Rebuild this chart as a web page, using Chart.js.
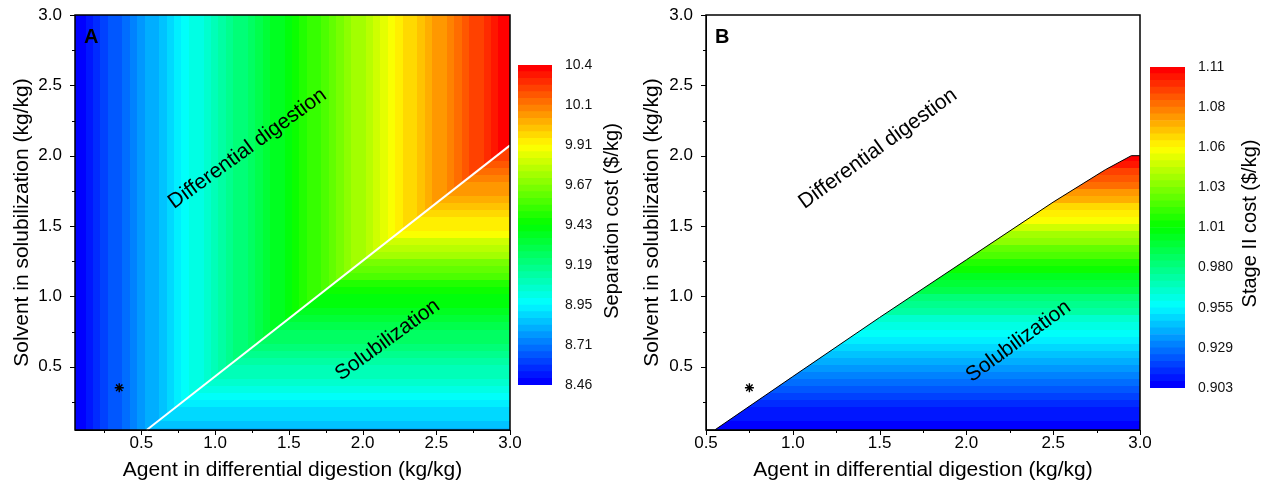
<!DOCTYPE html>
<html lang="en">
<head>
  <meta charset="UTF-8">
  <title>Separation cost maps</title>
  <script src="https://cdn.jsdelivr.net/npm/chart.js"></script>
  <style>
    body {
      margin: 0;
      background: #fff;
      width: 1268px;
      height: 489px;
      position: relative;
      overflow: hidden;
      font-family: 'Liberation Sans', Arial, sans-serif;
    }
    canvas { position: absolute; top: 0; }
  </style>
</head>
<body>
  <canvas id="mapA" width="540" height="489" style="left:0"></canvas>
  <canvas id="barA" width="125" height="489" style="left:505px"></canvas>
  <canvas id="mapB" width="540" height="489" style="left:630px"></canvas>
  <canvas id="barB" width="131" height="489" style="left:1137px"></canvas>
  <script>
    // agent loading (x) grid, panel A upper region: cost depends on agent only
    const agentGrid = [0.05, 0.10, 0.15, 0.20, 0.25, 0.30, 0.35, 0.40, 0.45, 0.50,
      0.55, 0.60, 0.65, 0.70, 0.75, 0.80, 0.85, 0.90, 0.95, 1.00,
      1.05, 1.10, 1.15, 1.20, 1.25, 1.30, 1.35, 1.40, 1.45, 1.50,
      1.55, 1.60, 1.65, 1.70, 1.75, 1.80, 1.85, 1.90, 1.95, 2.00,
      2.05, 2.10, 2.15, 2.20, 2.25, 2.30, 2.35, 2.40, 2.45, 2.50,
      2.55, 2.60, 2.65, 2.70, 2.75, 2.80, 2.85, 2.90, 2.95, 3.00];
    const separationByAgent = [8.46, 8.49, 8.53, 8.56, 8.59, 8.63, 8.66, 8.69, 8.72, 8.76,
      8.79, 8.82, 8.86, 8.89, 8.92, 8.96, 8.99, 9.02, 9.06, 9.09,
      9.12, 9.15, 9.19, 9.22, 9.25, 9.29, 9.32, 9.35, 9.38, 9.42,
      9.45, 9.48, 9.52, 9.55, 9.59, 9.62, 9.65, 9.69, 9.72, 9.75,
      9.79, 9.82, 9.86, 9.89, 9.92, 9.96, 9.99, 10.02, 10.05, 10.08,
      10.11, 10.14, 10.18, 10.21, 10.24, 10.27, 10.30, 10.33, 10.37, 10.40];

    // solvent loading (y) grid, panel A lower region: cost depends on solvent only
    const solventGridA = [0.05, 0.10, 0.15, 0.20, 0.25, 0.30, 0.35, 0.40, 0.45, 0.50,
      0.55, 0.60, 0.65, 0.70, 0.75, 0.80, 0.85, 0.90, 0.95, 1.00,
      1.05, 1.10, 1.15, 1.20, 1.25, 1.30, 1.35, 1.40, 1.45, 1.50,
      1.55, 1.60, 1.65, 1.70, 1.75, 1.80, 1.85, 1.90, 1.95, 2.00,
      2.05, 2.10];
    const separationBySolvent = [8.80, 8.83, 8.87, 8.90, 8.94, 8.97, 9.00, 9.03, 9.07, 9.10,
      9.13, 9.16, 9.19, 9.23, 9.26, 9.29, 9.32, 9.35, 9.39, 9.42,
      9.46, 9.51, 9.57, 9.62, 9.67, 9.72, 9.77, 9.83, 9.88, 9.92,
      9.95, 9.99, 10.02, 10.05, 10.08, 10.11, 10.14, 10.17, 10.21, 10.24,
      10.27, 10.30];

    // panel B: stage II cost in the solubilization region
    const solventGridB = [0.05, 0.10, 0.15, 0.20, 0.25, 0.30, 0.35, 0.40, 0.45, 0.50,
      0.55, 0.60, 0.65, 0.70, 0.75, 0.80, 0.85, 0.90, 0.95, 1.00,
      1.05, 1.10, 1.15, 1.20, 1.25, 1.30, 1.35, 1.40, 1.45, 1.50,
      1.55, 1.60, 1.65, 1.70, 1.75, 1.80, 1.85, 1.90, 1.95, 2.00];
    const stage2BySolvent = [0.903, 0.905, 0.908, 0.911, 0.915, 0.919, 0.923, 0.927, 0.931, 0.935,
      0.939, 0.943, 0.947, 0.951, 0.956, 0.962, 0.967, 0.973, 0.979, 0.984,
      0.990, 0.995, 1.001, 1.007, 1.014, 1.020, 1.027, 1.034, 1.040, 1.047,
      1.054, 1.060, 1.066, 1.073, 1.079, 1.085, 1.091, 1.097, 1.104, 1.110];

    // region boundaries (differential digestion above, solubilization below)
    const boundaryA = [{x: 0.536, y: 0.05}, {x: 3.0, y: 2.073}];
    const boundaryB = [{x: 0.5, y: 0.05}, {x: 0.55, y: 0.05}, {x: 1.0, y: 0.43}, {x: 1.5, y: 0.85},
      {x: 2.0, y: 1.26}, {x: 2.5, y: 1.67}, {x: 2.8, y: 1.90}, {x: 2.95, y: 2.0}, {x: 3.0, y: 2.0}];
    const optimumA = [{x: 0.35, y: 0.35}];
    const optimumB = [{x: 0.75, y: 0.35}];

    const axisTicks = [0.25, 0.5, 0.75, 1.0, 1.25, 1.5, 1.75, 2.0, 2.25, 2.5, 2.75, 3.0];
    const cbTicksA = [8.46, 8.7025, 8.945, 9.1875, 9.43, 9.6725, 9.915, 10.1575, 10.4];
    const cbLabelsA = ['8.46', '8.71', '8.95', '9.19', '9.43', '9.67', '9.91', '10.1', '10.4'];
    const cbTicksB = [0.903, 0.928875, 0.95475, 0.980625, 1.0065, 1.032375, 1.05825, 1.084125, 1.11];
    const cbLabelsB = ['0.903', '0.929', '0.955', '0.980', '1.01', '1.03', '1.06', '1.08', '1.11'];

    const LEVELS = 48;
    const FONT = "'Liberation Sans', Arial, sans-serif";
    Chart.defaults.font.family = FONT;
    Chart.defaults.color = '#000';

    const stops = [[0, 0, 255], [0, 255, 255], [0, 255, 0], [255, 255, 0], [255, 0, 0]];
    function levelColor(k) {
      const t = k / (LEVELS - 1) * 4;
      const i = Math.min(3, Math.floor(t)), f = t - i;
      const a = stops[i], b = stops[i + 1];
      return 'rgb(' + a.map((c, j) => Math.round(c + (b[j] - c) * f)).join(',') + ')';
    }
    function valueColor(v, lo, hi) {
      let k = Math.floor((v - lo) / (hi - lo) * LEVELS);
      return levelColor(Math.max(0, Math.min(LEVELS - 1, k)));
    }
    const isMajor = v => Math.abs(v * 2 - Math.round(v * 2)) < 1e-6;

    // filled contour cells, clipped to a region polygon
    const heatmap = {
      id: 'heatmap',
      beforeDatasetsDraw(chart, args, opts) {
        const {ctx, chartArea: a, scales: {x, y}} = chart;
        (opts.fields || []).forEach(f => {
          ctx.save();
          ctx.beginPath();
          f.region.forEach((p, i) => {
            const px = x.getPixelForValue(p.x), py = y.getPixelForValue(p.y);
            i ? ctx.lineTo(px, py) : ctx.moveTo(px, py);
          });
          ctx.closePath();
          ctx.clip();
          const sc = f.axis === 'x' ? x : y;
          f.at.forEach((c, i) => {
            const lo = i === 0 ? sc.min : (f.at[i - 1] + c) / 2;
            const hi = i === f.at.length - 1 ? sc.max : (c + f.at[i + 1]) / 2;
            ctx.fillStyle = valueColor(f.values[i], f.lo, f.hi);
            if (f.axis === 'x') {
              const p0 = Math.floor(x.getPixelForValue(lo)), p1 = Math.ceil(x.getPixelForValue(hi));
              ctx.fillRect(p0, a.top, p1 - p0 + 1, a.height);
            } else {
              const p0 = Math.floor(y.getPixelForValue(hi)), p1 = Math.ceil(y.getPixelForValue(lo));
              ctx.fillRect(a.left, p0, a.width, p1 - p0 + 1);
            }
          });
          ctx.restore();
        });
      },
      afterDatasetsDraw(chart, args, opts) {
        const {ctx, chartArea: a, scales: {x, y}} = chart;
        ctx.save();
        ctx.fillStyle = '#000';
        ctx.textAlign = 'center';
        ctx.textBaseline = 'middle';
        ctx.font = '21px ' + FONT;
        (opts.notes || []).forEach(n => {
          ctx.save();
          ctx.translate(x.getPixelForValue(n.x), y.getPixelForValue(n.y));
          ctx.rotate(-36 * Math.PI / 180);
          ctx.fillText(n.text, 0, 0);
          ctx.restore();
        });
        ctx.font = 'bold 20px ' + FONT;
        ctx.textAlign = 'left';
        ctx.fillText(opts.letter, a.left + 9, a.top + 22);
        ctx.restore();
      },
      afterDraw(chart) {
        const {ctx, chartArea: a, scales: {x, y}} = chart;
        ctx.save();
        ctx.strokeStyle = '#000';
        ctx.lineWidth = 1.5;
        ctx.strokeRect(a.left, a.top, a.width, a.height);
        // outward tick marks: long on labelled values, short between
        ctx.lineWidth = 1;
        ctx.beginPath();
        x.ticks.forEach(t => {
          const px = Math.round(x.getPixelForValue(t.value)) + 0.5;
          ctx.moveTo(px, a.bottom);
          ctx.lineTo(px, a.bottom + (isMajor(t.value) ? 5 : 3));
        });
        y.ticks.forEach(t => {
          const py = Math.round(y.getPixelForValue(t.value)) + 0.5;
          ctx.moveTo(a.left, py);
          ctx.lineTo(a.left - (isMajor(t.value) ? 5 : 3), py);
        });
        ctx.stroke();
        ctx.restore();
      }
    };

    function mapChart(id, cfg) {
      return new Chart(document.getElementById(id), {
        type: 'scatter',
        data: {
          datasets: [
            {data: cfg.boundary, showLine: true, borderColor: cfg.lineColor, borderWidth: cfg.lineWidth,
              pointRadius: 0, clip: 3},
            {data: cfg.optimum, pointStyle: 'star', radius: 4.5, borderColor: '#000', borderWidth: 1.4}
          ]
        },
        plugins: [heatmap],
        options: {
          responsive: false,
          animation: false,
          events: [],
          layout: {padding: {top: 15, right: 30, left: 0, bottom: 0}},
          plugins: {
            legend: {display: false},
            tooltip: {enabled: false},
            heatmap: {fields: cfg.fields, notes: cfg.notes, letter: cfg.letter}
          },
          scales: {
            x: {
              type: 'linear', min: cfg.xmin, max: 3.0,
              afterBuildTicks: s => { s.ticks = axisTicks.filter(v => v >= cfg.xmin).map(v => ({value: v})); },
              afterFit: s => { s.height = 59; s.paddingLeft = 0; s.paddingRight = 0; },
              grid: {drawOnChartArea: false, drawTicks: true, tickLength: 3, color: 'rgba(0,0,0,0)'},
              border: {color: '#000', width: 1},
              ticks: {font: {size: 17}, padding: 0, maxRotation: 0, autoSkip: false,
                callback: v => isMajor(v) ? v.toFixed(1) : ''},
              title: {display: true, text: 'Agent in differential digestion (kg/kg)', font: {size: 21},
                padding: {top: 0, bottom: 6}}
            },
            y: {
              type: 'linear', min: 0.05, max: 3.0,
              afterBuildTicks: s => { s.ticks = axisTicks.map(v => ({value: v})); },
              afterFit: s => { s.width = cfg.yWidth; s.paddingTop = 0; s.paddingBottom = 0; },
              grid: {drawOnChartArea: false, drawTicks: true, tickLength: 5, color: 'rgba(0,0,0,0)'},
              border: {color: '#000', width: 1},
              ticks: {font: {size: 17}, padding: 8, autoSkip: false,
                callback: v => isMajor(v) ? v.toFixed(1) : ''},
              title: {display: true, text: 'Solvent in solubilization (kg/kg)', font: {size: 21},
                padding: {top: 10, bottom: 0}}
            }
          }
        }
      });
    }

    const cbTitle = {
      id: 'cbTitle',
      afterDraw(chart, args, opts) {
        const {ctx, chartArea: a} = chart;
        ctx.save();
        ctx.fillStyle = '#000';
        ctx.font = '20px ' + FONT;
        ctx.textAlign = 'center';
        ctx.textBaseline = 'middle';
        ctx.translate(a.right + opts.offset, (a.top + a.bottom) / 2 - 4);
        ctx.rotate(-Math.PI / 2);
        ctx.fillText(opts.text, 0, 0);
        ctx.restore();
      }
    };

    function colorBar(id, cfg) {
      const step = (cfg.hi - cfg.lo) / LEVELS;
      const sets = [];
      for (let k = 0; k < LEVELS; k++) {
        sets.push({data: [[cfg.lo + k * step, cfg.lo + (k + 1) * step]], backgroundColor: levelColor(k),
          borderWidth: 0, barPercentage: 1, categoryPercentage: 1, grouped: false});
      }
      return new Chart(document.getElementById(id), {
        type: 'bar',
        data: {labels: [''], datasets: sets},
        plugins: [cbTitle],
        options: {
          responsive: false,
          animation: false,
          events: [],
          layout: {padding: {top: cfg.top, bottom: cfg.bottom, left: 13, right: cfg.right}},
          plugins: {legend: {display: false}, tooltip: {enabled: false},
            cbTitle: {text: cfg.title, offset: cfg.titleOffset}},
          scales: {
            x: {display: false},
            y: {
              position: 'right', min: cfg.lo, max: cfg.hi,
              afterBuildTicks: s => { s.ticks = cfg.ticks.map(v => ({value: v})); },
              afterFit: s => { s.width = 70; s.paddingTop = 0; s.paddingBottom = 0; },
              grid: {display: false, drawTicks: false},
              border: {display: false},
              ticks: {font: {size: 14}, padding: 13, color: '#111', callback: (v, i) => cfg.labels[i]}
            }
          }
        }
      });
    }

    mapChart('mapA', {
      xmin: 0.05, yWidth: 75, letter: 'A',
      boundary: boundaryA, lineColor: '#fff', lineWidth: 2, optimum: optimumA,
      fields: [
        {axis: 'x', at: agentGrid, values: separationByAgent, lo: 8.46, hi: 10.4,
          region: [...boundaryA, {x: 3.0, y: 3.0}, {x: 0.05, y: 3.0}, {x: 0.05, y: 0.05}]},
        {axis: 'y', at: solventGridA, values: separationBySolvent, lo: 8.46, hi: 10.4,
          region: [...boundaryA, {x: 3.0, y: 0.05}]}
      ],
      notes: [
        {text: 'Differential digestion', x: 1.22, y: 2.05},
        {text: 'Solubilization', x: 2.17, y: 0.69}
      ]
    });

    mapChart('mapB', {
      xmin: 0.5, yWidth: 76, letter: 'B',
      boundary: boundaryB, lineColor: '#000', lineWidth: 1, optimum: optimumB,
      fields: [
        {axis: 'y', at: solventGridB, values: stage2BySolvent, lo: 0.903, hi: 1.11,
          region: [...boundaryB, {x: 3.0, y: 0.05}]}
      ],
      notes: [
        {text: 'Differential digestion', x: 1.49, y: 2.05},
        {text: 'Solubilization', x: 2.30, y: 0.68}
      ]
    });

    colorBar('barA', {lo: 8.46, hi: 10.4, ticks: cbTicksA, labels: cbLabelsA,
      top: 65, bottom: 104, right: 8, title: 'Separation cost ($/kg)', titleOffset: 60});
    colorBar('barB', {lo: 0.903, hi: 1.11, ticks: cbTicksB, labels: cbLabelsB,
      top: 67, bottom: 101, right: 13, title: 'Stage II cost ($/kg)', titleOffset: 65});
  </script>
</body>
</html>
